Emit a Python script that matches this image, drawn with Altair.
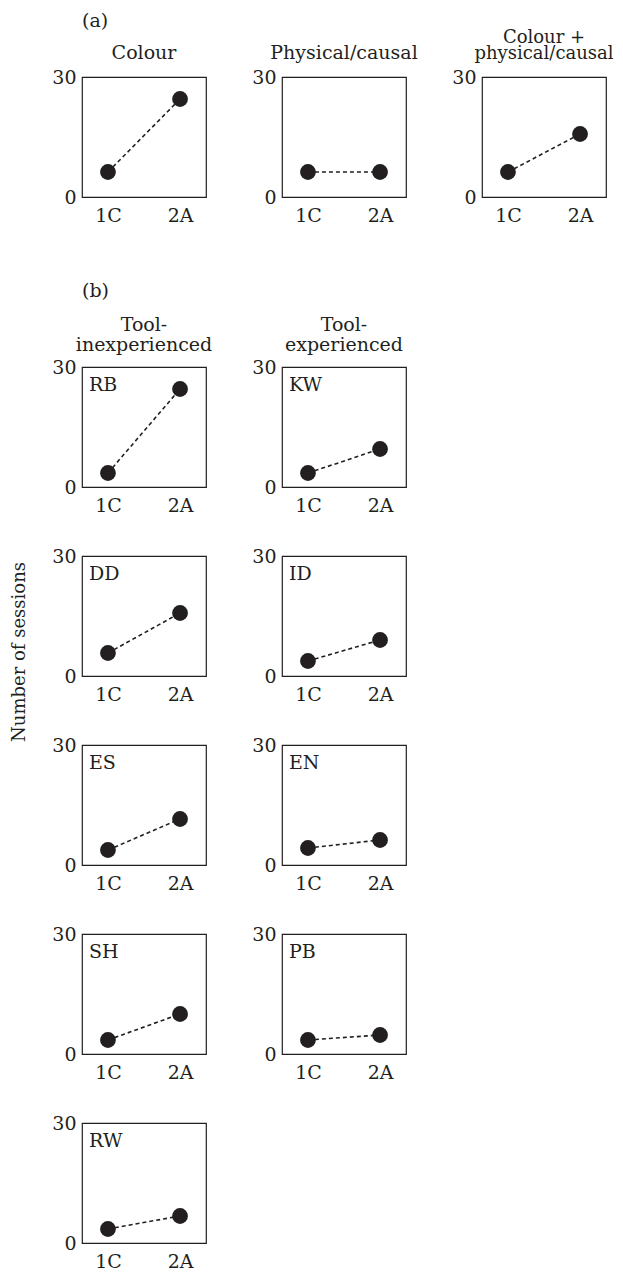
import altair as alt
import pandas as pd

INK = "#231f20"
FONT = "DejaVu Serif"
FS = 19

conditions = ["1C", "2A"]

# Panel (a)
a_titles = [["Colour"], ["Physical/causal"], ["Colour +", "physical/causal"]]
a_1C = [6.25, 6.25, 6.25]
a_2A = [24.5, 6.25, 15.75]

# Panel (b)
group_titles = [["Tool-", "inexperienced"], ["Tool-", "experienced"]]
inexp_names = ["RB", "DD", "ES", "SH", "RW"]
inexp_1C = [3.5, 5.75, 3.75, 3.5, 3.5]
inexp_2A = [24.5, 15.75, 11.5, 10.0, 6.75]

exp_names = ["KW", "ID", "EN", "PB"]
exp_1C = [3.5, 3.75, 4.25, 3.5]
exp_2A = [9.5, 9.0, 6.25, 4.75]

W, H = 124, 120


def text_layer(txt, x, y, align="left", angle=0, size=FS):
    return alt.Chart(pd.DataFrame({"t": [txt]})).mark_text(
        font=FONT, fontSize=size, color=INK, align=align, baseline="alphabetic", angle=angle
    ).encode(text="t:N", x=alt.value(x), y=alt.value(y))


def title_layers(lines, last_y, line_gap, size=FS):
    out = []
    n = len(lines)
    for i, ln in enumerate(lines):
        out.append(text_layer(ln, W / 2, last_y - (n - 1 - i) * line_gap, align="center", size=size))
    return out


def panel(v1, v2, label=None, extras=()):
    df = pd.DataFrame({"cond": conditions, "n": [v1, v2]})
    x = alt.X(
        "cond:N",
        scale=alt.Scale(type="point", domain=conditions, padding=0.36),
        axis=alt.Axis(title=None, labelAngle=0, ticks=False, domain=False, grid=False,
                      labelPadding=9, labelFont=FONT, labelFontSize=FS, labelColor=INK),
    )
    y = alt.Y(
        "n:Q",
        scale=alt.Scale(domain=[0, 30], nice=False),
        axis=alt.Axis(title=None, values=[0, 30], ticks=False, domain=False, grid=False,
                      labelFlush=False, labelPadding=6, labelFont=FONT, labelFontSize=FS,
                      labelColor=INK),
    )
    base = alt.Chart(df)
    line = base.mark_line(strokeDash=[4, 3], strokeWidth=1.6, color=INK).encode(x=x, y=y)
    pts = base.mark_circle(size=250, opacity=1, color=INK).encode(x=x, y=y)
    layers = [line, pts]
    if label:
        layers.append(text_layer(label, 7, 24))
    layers.extend(extras)
    return alt.layer(*layers).properties(width=W, height=H)


def spacer(h):
    return alt.Chart(pd.DataFrame({"v": [0]})).mark_point(opacity=0).encode(
        x=alt.value(0), y=alt.value(0)
    ).properties(width=W, height=h, view=alt.ViewBackground(strokeOpacity=0))


charts = []
# row (a)
charts.append(panel(a_1C[0], a_2A[0],
                    extras=[text_layer("(a)", 0, -50)] + title_layers(a_titles[0], -18, 15)))
charts.append(panel(a_1C[1], a_2A[1], extras=title_layers(a_titles[1], -18, 15)))
charts.append(panel(a_1C[2], a_2A[2], extras=title_layers(a_titles[2], -18, 16, size=18)))
# spacer row
charts += [spacer(32), spacer(32), spacer(32)]
# rows (b)
for i in range(5):
    extras = []
    if i == 0:
        extras.append(text_layer("(b)", 0, -70))
        extras += title_layers(group_titles[0], -16, 20)
    if i == 1:
        extras.append(text_layer("Number of sessions", -57, 96, align="center", angle=270, size=18))
    charts.append(panel(inexp_1C[i], inexp_2A[i], label=inexp_names[i], extras=extras))
    if i < 4:
        ex2 = title_layers(group_titles[1], -16, 20) if i == 0 else []
        charts.append(panel(exp_1C[i], exp_2A[i], label=exp_names[i], extras=ex2))
        charts.append(spacer(1))

chart = alt.concat(*charts, columns=3, spacing={"row": 69, "column": 76},
                   bounds="flush", align="each").configure_view(
    stroke=INK, strokeWidth=1.2
).properties(padding={"left": 2, "top": 3, "right": 0, "bottom": 0})

chart.save("out.html", embed_options={"renderer": "svg", "actions": False})
